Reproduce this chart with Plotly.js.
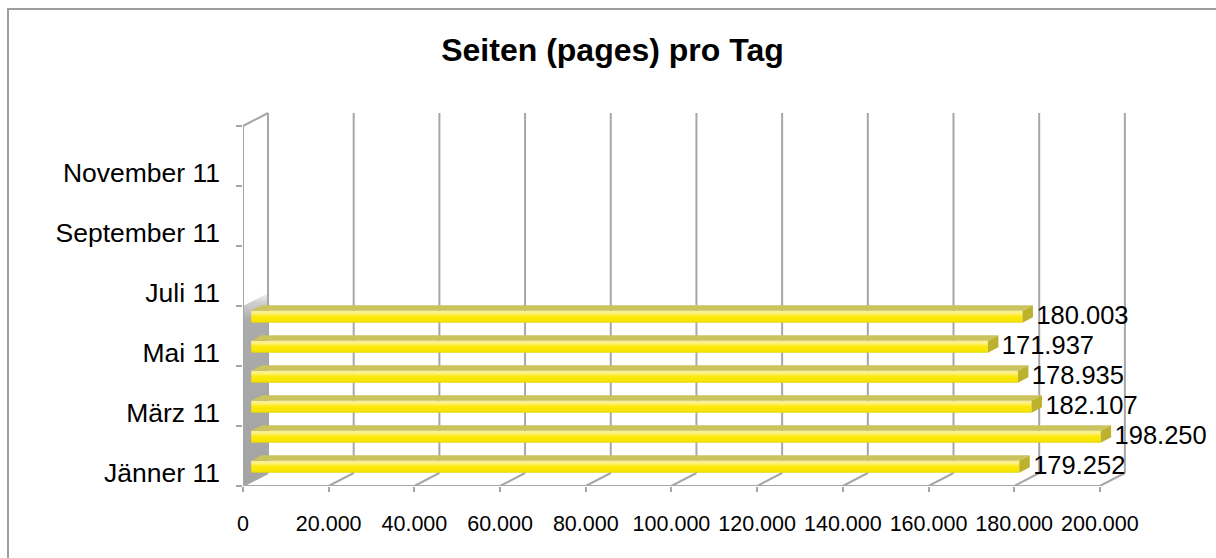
<!DOCTYPE html>
<html>
<head>
<meta charset="utf-8">
<script src="https://cdn.plot.ly/plotly-3.0.1.min.js"></script>
<style>html,body{margin:0;padding:0;background:#fff;}#chart{width:1216px;height:558px;}</style>
</head>
<body>
<div id="chart"></div>
<script>
// ---- data ----
const categories = ['Jänner 11','Februar 11','März 11','April 11','Mai 11','Juni 11','Juli 11','August 11','September 11','Oktober 11','November 11','Dezember 11'];
const pages = [179252, 198250, 182107, 178935, 171937, 180003];
const xTickVals = [0, 20000, 40000, 60000, 80000, 100000, 120000, 140000, 160000, 180000, 200000];
const xTickText = ['0','20.000','40.000','60.000','80.000','100.000','120.000','140.000','160.000','180.000','200.000'];
const yLabelIdx = [0, 2, 4, 6, 8, 10];

// ---- style / pseudo-3D geometry (in axis units) ----
const DX = 5835, DY = 0.4333;   // full depth vector
const F0 = 0.33, BD = 0.42;     // bar front depth, bar depth
const BW = 0.4;                 // bar thickness (category units)
const LABEL_PAD = 800;          // gap between bar end and value label
const GRID = '#a6a6a6';
const nCat = categories.length;

function fmt(v){ return String(v).replace(/\B(?=(\d{3})+(?!\d))/g, '.'); }

const traces = [];

// left wall shading (behind bars)
traces.push({
  type:'scatter', mode:'none', hoverinfo:'skip', fill:'toself',
  x:[0, DX, DX, 0, 0], y:[0, DY, 6 + DY, 6, 0],
  fillcolor:'#a8a8a8',
  fillgradient:{type:'vertical', start:0, stop:6 + DY,
    colorscale:[[0,'#a4a4a4'],[0.86,'#ababab'],[0.95,'#d0d0d0'],[1,'#f4f4f4']]}
});

// walls, floor and gridlines
const lx = [], ly = [];
xTickVals.forEach(v => { lx.push(v + DX, v + DX, null); ly.push(DY, nCat + DY, null); });
xTickVals.forEach(v => { lx.push(v, v + DX, null); ly.push(0, DY, null); });
lx.push(0, xTickVals[xTickVals.length-1], null); ly.push(0, 0, null);
lx.push(0, 0, null); ly.push(0, nCat, null);
lx.push(0, DX, null); ly.push(nCat, nCat + DY, null);
traces.push({type:'scatter', mode:'lines', hoverinfo:'skip', x:lx, y:ly,
  line:{color:GRID, width:2}});

// bars
const labX = [], labY = [], labT = [];
pages.forEach((v, c) => {
  const x0 = F0 * DX, x1 = x0 + v;
  const y0 = c + 0.5 - BW / 2 + F0 * DY, y1 = y0 + BW;
  const bx = BD * DX, by = BD * DY;
  // front face
  traces.push({type:'scatter', mode:'none', hoverinfo:'skip', fill:'toself',
    x:[x0, x1, x1, x0, x0], y:[y0, y0, y1, y1, y0],
    fillcolor:'#fbe800',
    fillgradient:{type:'vertical', start:y0, stop:y1,
      colorscale:[[0,'#e6d30a'],[0.15,'#f6e400'],[0.55,'#fdea10'],[0.78,'#fff280'],[1,'#f6ee9a']]}});
  // top face
  traces.push({type:'scatter', mode:'none', hoverinfo:'skip', fill:'toself',
    x:[x0, x1, x1 + bx, x0 + bx, x0], y:[y1, y1, y1 + by, y1 + by, y1],
    fillcolor:'#cac35e'});
  // end cap
  traces.push({type:'scatter', mode:'none', hoverinfo:'skip', fill:'toself',
    x:[x1, x1, x1 + bx, x1 + bx, x1], y:[y0, y1, y1 + by, y0 + by, y0],
    fillcolor:'#bdb22e'});
  labX.push(x1 + bx + LABEL_PAD); labY.push((y0 + y1) / 2 - 0.04); labT.push(fmt(v));
});

// data labels
traces.push({type:'scatter', mode:'text', hoverinfo:'skip', x:labX, y:labY, text:labT,
  textposition:'middle right', cliponaxis:false,
  textfont:{family:'Liberation Sans, Arial, sans-serif', size:25.5, color:'#000'}});

const yMinor = [];
for (let i = 0; i <= nCat; i += 2) yMinor.push(i);

const layout = {
  width:1216, height:558,
  margin:{l:243, r:36, t:100, b:72, pad:0},
  paper_bgcolor:'#ffffff', plot_bgcolor:'rgba(0,0,0,0)',
  showlegend:false,
  font:{family:'Liberation Sans, Arial, sans-serif', color:'#000'},
  title:{text:'Seiten (pages) pro Tag', xref:'container', x:0.5037, xanchor:'center',
    yref:'container', y:0.911, yanchor:'middle',
    font:{family:'Liberation Sans, Arial, sans-serif', size:32, weight:700, color:'#000'}},
  xaxis:{range:[0, 218700], tickmode:'array', tickvals:xTickVals, ticktext:xTickText,
    ticks:'outside', ticklen:5, tickwidth:2, tickcolor:GRID,
    showgrid:false, zeroline:false, showline:false, fixedrange:true,
    ticklabelstandoff:13,
    tickfont:{family:'Liberation Sans, Arial, sans-serif', size:21.5, color:'#000'}},
  yaxis:{range:[0, 12.8667], tickmode:'array',
    tickvals:yLabelIdx.map(i => i + 0.43), ticktext:yLabelIdx.map(i => categories[i]),
    ticks:'', showgrid:false, zeroline:false, showline:false, fixedrange:true,
    ticklabelstandoff:22,
    tickfont:{family:'Liberation Sans, Arial, sans-serif', size:26.5, color:'#000'},
    minor:{tickmode:'array', tickvals:yMinor, ticks:'outside', ticklen:6, tickwidth:2,
      tickcolor:GRID, showgrid:false}},
  shapes:[
    {type:'rect', xref:'paper', yref:'paper', x0:(8 - 243) / 937, x1:1.5,
     y0:-0.5, y1:(549 - 72) / 386, line:{color:'#9e9e9e', width:2}, fillcolor:'rgba(0,0,0,0)', layer:'below'}
  ]
};

Plotly.newPlot('chart', traces, layout, {displayModeBar:false, staticPlot:true});
</script>
</body>
</html>
